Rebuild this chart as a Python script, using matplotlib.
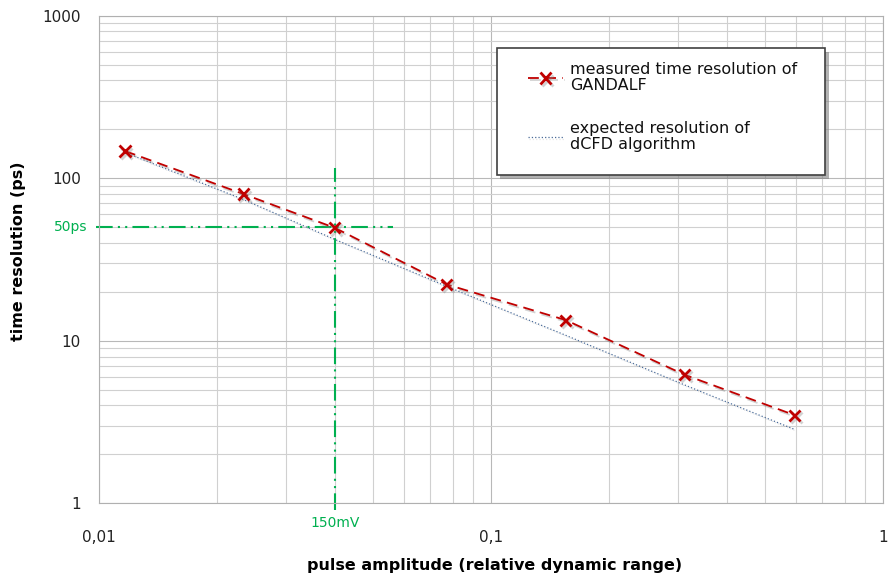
import matplotlib.pyplot as plt
import matplotlib.patheffects as pe
from matplotlib.patches import Rectangle
from matplotlib.ticker import LogLocator, NullFormatter

# pulse amplitude (relative dynamic range)
amplitude = [0.01165, 0.02335, 0.040, 0.0772, 0.1554, 0.3121, 0.5957]
# measured time resolution of GANDALF (ps)
measured = [147, 80, 49.5, 22.2, 13.4, 6.18, 3.49]
# expected resolution of dCFD algorithm (ps)
expected = [144, 74, 42, 21.6, 10.8, 5.35, 2.85]

# 150 mV / 50 ps marker lines
mark_x = 0.04
mark_y = 50
vline_y = [0.91, 115]
hline_x = [0.00985, 0.0562]

xticks = [0.01, 0.1, 1]
xtick_labels = ["0,01", "0,1", "1"]
yticks = [1, 10, 100, 1000]
ytick_labels = ["1", "10", "100", "1000"]

red = "#c00000"
green = "#00b050"

fig = plt.figure(figsize=(8.92, 5.81), dpi=100)
ax = fig.add_axes([0.111, 0.1337, 0.8785, 0.8393])

ax.set_xscale("log")
ax.set_yscale("log")
ax.set_xlim(0.01, 1)
ax.set_ylim(1, 1000)

# grid like the spreadsheet original
ax.xaxis.set_minor_locator(LogLocator(base=10, subs=range(2, 10)))
ax.yaxis.set_minor_locator(LogLocator(base=10, subs=range(2, 10)))
ax.xaxis.set_minor_formatter(NullFormatter())
ax.yaxis.set_minor_formatter(NullFormatter())
ax.grid(which="major", color="#b8b8b8", linewidth=0.8)
ax.grid(which="minor", color="#d0d0d0", linewidth=0.8)
ax.set_axisbelow(True)
for s in ax.spines.values():
    s.set_color("#b0b0b0")
    s.set_linewidth(0.8)

ax.set_xticks(xticks)
ax.set_xticklabels(xtick_labels)
ax.set_yticks(yticks)
ax.set_yticklabels(ytick_labels)
ax.tick_params(which="both", length=0)
ax.tick_params(axis="x", labelsize=11, pad=19, labelcolor="#222222")
ax.tick_params(axis="y", labelsize=11, pad=13, labelcolor="#222222")

# green guide lines
dashdotdot = (0, (8, 2.5, 1, 2.5, 1, 2.5))
ax.plot([mark_x, mark_x], vline_y, color=green, lw=1.5, linestyle=dashdotdot, clip_on=False, zorder=2)
ax.plot(hline_x, [mark_y, mark_y], color=green, lw=1.5, linestyle=dashdotdot, clip_on=False, zorder=2)
ax.text(-0.015, mark_y, "50ps", transform=ax.get_yaxis_transform(), color=green,
        fontsize=10, ha="right", va="center")
ax.text(mark_x, -0.026, "150mV", transform=ax.get_xaxis_transform(), color=green,
        fontsize=10, ha="center", va="top")

shadow = [pe.SimpleLineShadow(offset=(1.2, -1.5), shadow_color="gray", alpha=0.35), pe.Normal()]
l1, = ax.plot(amplitude, measured, color=red, lw=1.3, linestyle=(0, (6, 3.5)),
              marker="x", markersize=8, markeredgewidth=2, zorder=4, path_effects=shadow)
l2, = ax.plot(amplitude, expected, color="#4a6b98", lw=0.9, linestyle=":", zorder=3,
              path_effects=[pe.SimpleLineShadow(offset=(0.8, -1), shadow_color="gray", alpha=0.2), pe.Normal()])

ax.set_xlabel("pulse amplitude (relative dynamic range)", fontsize=11.5, fontweight="bold")
ax.set_ylabel("time resolution (ps)", fontsize=11.5, fontweight="bold")
ax.xaxis.set_label_coords(0.505, -0.112)
ax.yaxis.set_label_coords(-0.093, 0.517)

# legend box with shadow
box = Rectangle((0.5075, 0.673), 0.419, 0.26, transform=ax.transAxes, facecolor="white",
                edgecolor="#404040", lw=1.2, zorder=5,
                path_effects=[pe.withSimplePatchShadow(offset=(2.5, -2.5), shadow_rgbFace="gray", alpha=0.6)])
ax.add_patch(box)
leg = ax.legend([l1, l2], ["measured time resolution of\nGANDALF", "expected resolution of\ndCFD algorithm"],
                loc="upper left", bbox_to_anchor=(0.5474, 0.905), frameon=False, fontsize=11.5,
                borderpad=0, borderaxespad=0, handlelength=2.2, handletextpad=0.45, labelspacing=1.75)
leg.set_zorder(6)
for t in leg.get_texts():
    t.set_linespacing(1.1)
    t.set_color("#111111")

fig.savefig("out.png", dpi=100)
